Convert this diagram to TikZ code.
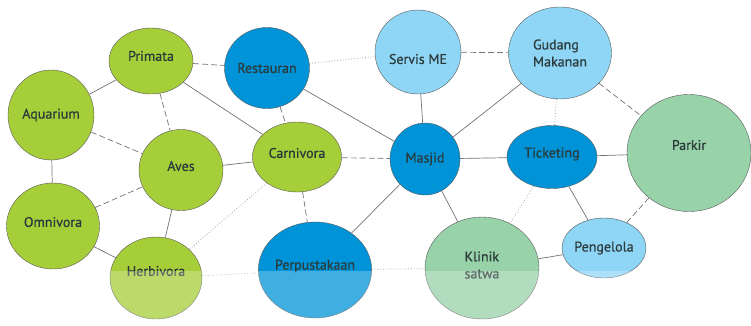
\documentclass[tikz,border=0pt]{standalone}
\usepackage{fontspec}
\setmainfont{PT Sans}
\newfontfamily\zonefont{PT Sans}[FakeBold=0.6]
\usepackage{tikz}
\usetikzlibrary{shapes.geometric}
\definecolor{zoogreen}{HTML}{A6CE39}
\definecolor{hubblue}{HTML}{0093D7}
\definecolor{paleblue}{HTML}{8FD6F6}
\definecolor{mint}{HTML}{98D2A9}
\definecolor{inktext}{HTML}{2B3A3A}
\newcommand{\lift}[2]{\raisebox{#1}[\height][\depth]{#2}}
\tikzset{
  zone/.style={ellipse,draw=black!65,thin,inner sep=0pt,align=left,
               font=\zonefont\fontsize{14}{17}\selectfont,text=inktext},
  zoo/.style={zone,fill=zoogreen},
  hub/.style={zone,fill=hubblue},
  support/.style={zone,fill=paleblue},
  care/.style={zone,fill=mint},
  direct/.style={black!55,line width=0.7pt},
  near/.style={direct,dash pattern=on 6pt off 3pt},
  far/.style={black!35,line width=0.8pt,dotted},
}

\begin{document}
\begin{tikzpicture}[x=1pt,y=-1pt]
  \useasboundingbox (0,0) rectangle (751,325);
  % --- zoo zones ---
  \node[zoo,minimum width=84pt,minimum height=66pt] (primata) at (151,61) {\lift{5pt}{Primata}};
  \node[zoo,minimum width=86pt,minimum height=90pt] (aquarium) at (51,115) {Aquarium};
  \node[zoo,minimum width=84pt,minimum height=81pt] (aves) at (181,170) {\lift{4pt}{Aves}};
  \node[zoo,minimum width=89pt,minimum height=70pt] (carnivora) at (297,157) {\lift{4pt}{Carnivora}};
  \node[zoo,minimum width=93pt,minimum height=86pt] (omnivora) at (53,226) {\lift{4pt}{Omnivora}};
  \node[zoo,minimum width=92pt,minimum height=82pt] (herbivora) at (156,278) {\lift{7pt}{Herbivora}};
  % --- public facilities ---
  \node[hub,minimum width=85pt,minimum height=81pt] (restauran) at (267,68) {Restauran};
  \node[hub,minimum width=106pt,minimum height=96pt] (perpus) at (315,270) {\lift{4pt}{Perpustakaan}};
  \node[hub,minimum width=70pt,minimum height=72pt] (masjid) at (425,159) {Masjid};
  \node[hub,minimum width=90pt,minimum height=63pt] (ticket) at (552,157) {\lift{3pt}{Ticketing}};
  % --- service zones ---
  \node[support,minimum width=86pt,minimum height=84pt] (servis) at (418,52) {\lift{-7pt}{Servis ME}};
  \node[support,minimum width=103pt,minimum height=92pt] (gudang) at (560,53) {Gudang\\Makanan};
  \node[support,minimum width=76pt,minimum height=60pt] (pengelola) at (604,248) {Pengelola};
  \node[care,minimum width=124pt,minimum height=117pt] (parkir) at (689,153) {\lift{8pt}{Parkir}};
  \node[care,minimum width=114pt,minimum height=102pt] (klinik) at (482,268) {\lift{3pt}{Klinik}\\\lift{3pt}{satwa}};
  % --- close relations ---
  \foreach \a/\b in {aquarium/primata,aquarium/omnivora,primata/carnivora,
                     aves/carnivora,aves/herbivora,omnivora/herbivora,
                     restauran/masjid,perpus/masjid,masjid/servis,masjid/gudang,
                     masjid/ticket,masjid/klinik,ticket/parkir,ticket/pengelola,
                     klinik/pengelola}
    \draw[direct] (\a) -- (\b);
  % --- medium relations ---
  \foreach \a/\b in {primata/restauran,primata/aves,aquarium/aves,omnivora/aves,
                     restauran/carnivora,carnivora/perpus,carnivora/masjid,
                     servis/gudang,gudang/parkir,pengelola/parkir}
    \draw[near] (\a) -- (\b);
  % --- weak relations ---
  \foreach \a/\b in {restauran/servis,carnivora/herbivora,herbivora/perpus,
                     perpus/klinik,gudang/ticket,ticket/klinik}
    \draw[far] (\a) -- (\b);
  % --- faded strip at the bottom ---
  \fill[white,opacity=0.25] (0,271) rectangle (751,325);
\end{tikzpicture}
\end{document}
